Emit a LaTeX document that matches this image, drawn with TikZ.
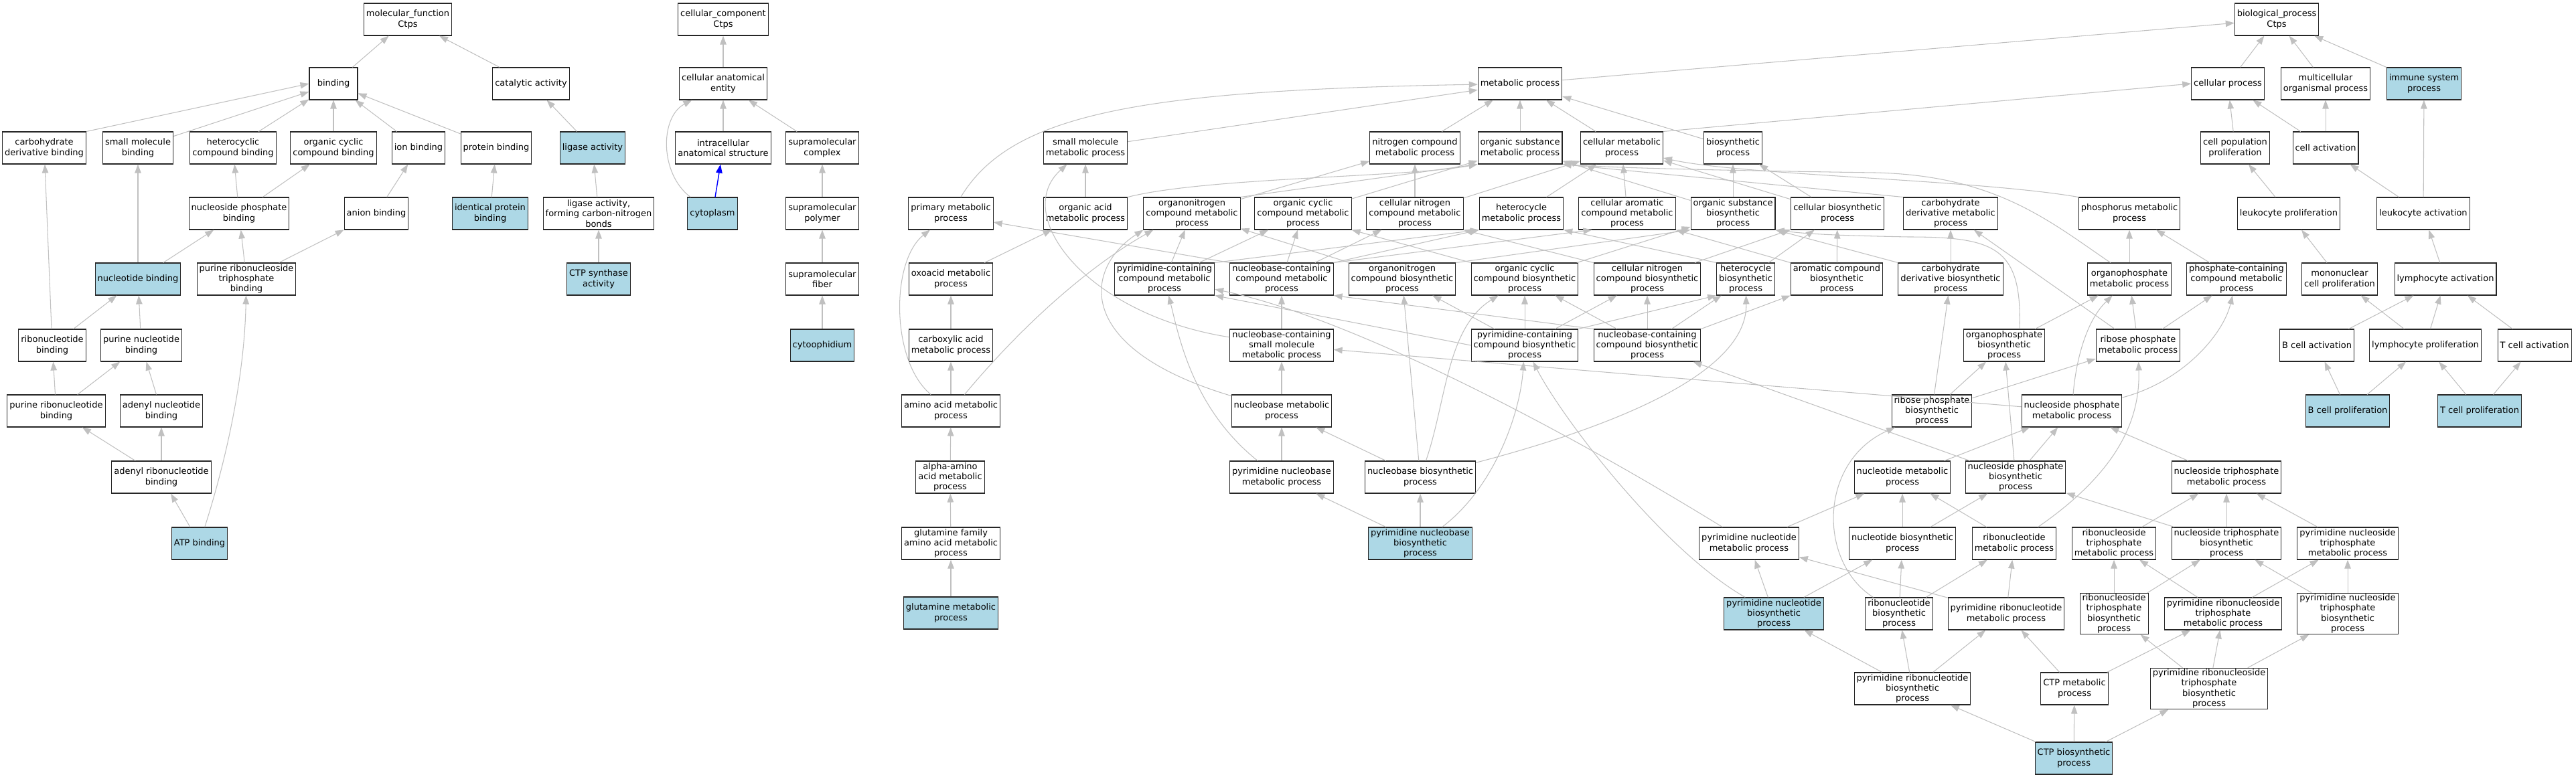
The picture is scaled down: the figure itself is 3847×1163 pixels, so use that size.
\documentclass[tikz,border=0pt]{standalone}
\usepackage{fontspec}
\setmainfont{DejaVu Sans}
\usetikzlibrary{arrows.meta}
\definecolor{goblue}{HTML}{ADD8E6}
\definecolor{gogray}{HTML}{C0C0C0}
\newcommand{\gofont}{\fontsize{7.4pt}{8.7pt}\selectfont}
\begin{document}
\begin{tikzpicture}[ x=0.02cm, y=-0.02cm,
    goterm/.style={ shape=rectangle, draw=black!85, line width=0.6pt, fill=white, align=center, font=\gofont, inner xsep=0.07cm, inner ysep=0.03cm, minimum width=1.44cm, minimum height=0.96cm },
    goseed/.style={ goterm, fill=goblue },
    isa/.style={ draw=gogray, line width=0.6pt, -{Triangle[length=0.26cm, width=0.19cm]} },
    partof/.style={ draw=blue, line width=0.8pt, -{Triangle[length=0.26cm, width=0.19cm]} } ]
    \useasboundingbox (0,0) rectangle (3847,1163);

    \node (nMolFunc) [ goterm ] at (609,29) {molecular\_function\\Ctps};
    \node (nBinding) [ goterm ] at (498,125) {binding};
    \node (nCatalytic) [ goterm ] at (793,125) {catalytic activity};
    \node (nCarbDerivBind) [ goterm ] at (66,221) {carbohydrate\\derivative binding};
    \node (nSmallMolBind) [ goterm ] at (206,221) {small molecule\\binding};
    \node (nHeteroBind) [ goterm ] at (348,221) {heterocyclic\\compound binding};
    \node (nOrgCyclicBind) [ goterm ] at (498,221) {organic cyclic\\compound binding};
    \node (nIonBind) [ goterm ] at (625,221) {ion binding};
    \node (nProteinBind) [ goterm ] at (741,221) {protein binding};
    \node (nLigase) [ goseed ] at (885,221) {ligase activity};
    \node (nNuclPhosBind) [ goterm ] at (357,319) {nucleoside phosphate\\binding};
    \node (nAnionBind) [ goterm ] at (562,319) {anion binding};
    \node (nIdentProtBind) [ goseed ] at (732,319) {identical protein\\binding};
    \node (nLigaseCN) [ goterm ] at (894,319) {ligase activity,\\forming carbon-nitrogen\\bonds};
    \node (nNucleotideBind) [ goseed ] at (206,417) {nucleotide binding};
    \node (nPurRiboTriBind) [ goterm ] at (368,417) {purine ribonucleoside\\triphosphate\\binding};
    \node (nCtpSynthase) [ goseed ] at (894,417) {CTP synthase\\activity};
    \node (nRibonucBind) [ goterm ] at (78,516) {ribonucleotide\\binding};
    \node (nPurNucBind) [ goterm ] at (211,516) {purine nucleotide\\binding};
    \node (nPurRibonucBind) [ goterm ] at (84,614) {purine ribonucleotide\\binding};
    \node (nAdenylNucBind) [ goterm ] at (241,614) {adenyl nucleotide\\binding};
    \node (nAdenylRiboBind) [ goterm ] at (241,713) {adenyl ribonucleotide\\binding};
    \node (nAtpBind) [ goseed ] at (298,812) {ATP binding};

    \node (nCellComp) [ goterm ] at (1080,29) {cellular\_component\\Ctps};
    \node (nCellAnat) [ goterm ] at (1080,125) {cellular anatomical\\entity};
    \node (nIntraAnat) [ goterm ] at (1080,221) {intracellular\\anatomical structure};
    \node (nSupraComplex) [ goterm ] at (1228,221) {supramolecular\\complex};
    \node (nCytoplasm) [ goseed ] at (1064,319) {cytoplasm};
    \node (nSupraPolymer) [ goterm ] at (1228,319) {supramolecular\\polymer};
    \node (nSupraFiber) [ goterm ] at (1228,417) {supramolecular\\fiber};
    \node (nCytoophidium) [ goseed ] at (1228,516) {cytoophidium};

    \node (nBioProc) [ goterm ] at (3400,29) {biological\_process\\Ctps};
    \node (nMetab) [ goterm ] at (2270,125) {metabolic process};
    \node (nCellProc) [ goterm ] at (3327,125) {cellular process};
    \node (nMulticell) [ goterm ] at (3473,125) {multicellular\\organismal process};
    \node (nImmune) [ goseed ] at (3620,125) {immune system\\process};

    \node (nSmallMolMet) [ goterm ] at (1621,221) {small molecule\\metabolic process};
    \node (nNitroMet) [ goterm ] at (2113,221) {nitrogen compound\\metabolic process};
    \node (nOrgSubMet) [ goterm ] at (2270,221) {organic substance\\metabolic process};
    \node (nCellMet) [ goterm ] at (2422,221) {cellular metabolic\\process};
    \node (nBiosyn) [ goterm ] at (2588,221) {biosynthetic\\process};
    \node (nCellPopProlif) [ goterm ] at (3338,221) {cell population\\proliferation};
    \node (nCellAct) [ goterm ] at (3473,221) {cell activation};

    \node (nPrimMet) [ goterm ] at (1420,319) {primary metabolic\\process};
    \node (nOrgAcidMet) [ goterm ] at (1621,319) {organic acid\\metabolic process};
    \node (nOrgNitroMet) [ goterm ] at (1780,319) {organonitrogen\\compound metabolic\\process};
    \node (nOrgCycMet) [ goterm ] at (1946,319) {organic cyclic\\compound metabolic\\process};
    \node (nCellNitroMet) [ goterm ] at (2113,319) {cellular nitrogen\\compound metabolic\\process};
    \node (nHeteroMet) [ goterm ] at (2272,319) {heterocycle\\metabolic process};
    \node (nCellAromMet) [ goterm ] at (2430,319) {cellular aromatic\\compound metabolic\\process};
    \node (nOrgSubBiosyn) [ goterm ] at (2588,319) {organic substance\\biosynthetic\\process};
    \node (nCellBiosyn) [ goterm ] at (2744,319) {cellular biosynthetic\\process};
    \node (nCarbDerivMet) [ goterm ] at (2913,319) {carbohydrate\\derivative metabolic\\process};
    \node (nPhosphorusMet) [ goterm ] at (3180,319) {phosphorus metabolic\\process};
    \node (nLeukoProlif) [ goterm ] at (3418,319) {leukocyte proliferation};
    \node (nLeukoAct) [ goterm ] at (3619,319) {leukocyte activation};

    \node (nOxoacidMet) [ goterm ] at (1420,417) {oxoacid metabolic\\process};
    \node (nPyrContMet) [ goterm ] at (1739,417) {pyrimidine-containing\\compound metabolic\\process};
    \node (nNucbContMet) [ goterm ] at (1914,417) {nucleobase-containing\\compound metabolic\\process};
    \node (nOrgNitroBiosyn) [ goterm ] at (2094,417) {organonitrogen\\compound biosynthetic\\process};
    \node (nOrgCycBiosyn) [ goterm ] at (2277,417) {organic cyclic\\compound biosynthetic\\process};
    \node (nCellNitroBiosyn) [ goterm ] at (2460,417) {cellular nitrogen\\compound biosynthetic\\process};
    \node (nHeteroBiosyn) [ goterm ] at (2607,417) {heterocycle\\biosynthetic\\process};
    \node (nAromBiosyn) [ goterm ] at (2743,417) {aromatic compound\\biosynthetic\\process};
    \node (nCarbDerivBiosyn) [ goterm ] at (2913,417) {carbohydrate\\derivative biosynthetic\\process};
    \node (nOrgPhosMet) [ goterm ] at (3180,417) {organophosphate\\metabolic process};
    \node (nPhosContMet) [ goterm ] at (3340,417) {phosphate-containing\\compound metabolic\\process};
    \node (nMononucProlif) [ goterm ] at (3494,417) {mononuclear\\cell proliferation};
    \node (nLymphoAct) [ goterm ] at (3652,417) {lymphocyte activation};

    \node (nCarboxMet) [ goterm ] at (1420,516) {carboxylic acid\\metabolic process};
    \node (nNucbSmallMet) [ goterm ] at (1914,516) {nucleobase-containing\\small molecule\\metabolic process};
    \node (nPyrContBiosyn) [ goterm ] at (2277,516) {pyrimidine-containing\\compound biosynthetic\\process};
    \node (nNucbContBiosyn) [ goterm ] at (2460,516) {nucleobase-containing\\compound biosynthetic\\process};
    \node (nOrgPhosBiosyn) [ goterm ] at (2993,516) {organophosphate\\biosynthetic\\process};
    \node (nRibPhosMet) [ goterm ] at (3193,516) {ribose phosphate\\metabolic process};
    \node (nBCellAct) [ goterm ] at (3460,516) {B cell activation};
    \node (nLymphoProlif) [ goterm ] at (3622,516) {lymphocyte proliferation};
    \node (nTCellAct) [ goterm ] at (3785,516) {T cell activation};

    \node (nAminoMet) [ goterm ] at (1420,614) {amino acid metabolic\\process};
    \node (nNucbMet) [ goterm ] at (1914,614) {nucleobase metabolic\\process};
    \node (nRibPhosBiosyn) [ goterm ] at (2885,614) {ribose phosphate\\biosynthetic\\process};
    \node (nNucsPhosMet) [ goterm ] at (3094,614) {nucleoside phosphate\\metabolic process};
    \node (nBCellProlif) [ goseed ] at (3506,614) {B cell proliferation};
    \node (nTCellProlif) [ goseed ] at (3703,614) {T cell proliferation};

    \node (nAlphaAminoMet) [ goterm ] at (1419,713) {alpha-amino\\acid metabolic\\process};
    \node (nPyrNucbMet) [ goterm ] at (1914,713) {pyrimidine nucleobase\\metabolic process};
    \node (nNucbBiosyn) [ goterm ] at (2121,713) {nucleobase biosynthetic\\process};
    \node (nNuctMet) [ goterm ] at (2841,713) {nucleotide metabolic\\process};
    \node (nNucsPhosBiosyn) [ goterm ] at (3010,713) {nucleoside phosphate\\biosynthetic\\process};
    \node (nNucsTriMet) [ goterm ] at (3325,713) {nucleoside triphosphate\\metabolic process};

    \node (nGlnFamMet) [ goterm ] at (1420,812) {glutamine family\\amino acid metabolic\\process};
    \node (nPyrNucbBiosyn) [ goseed ] at (2121,812) {pyrimidine nucleobase\\biosynthetic\\process};
    \node (nPyrNuctMet) [ goterm ] at (2612,812) {pyrimidine nucleotide\\metabolic process};
    \node (nNuctBiosyn) [ goterm ] at (2841,812) {nucleotide biosynthetic\\process};
    \node (nRibonuctMet) [ goterm ] at (3008,812) {ribonucleotide\\metabolic process};
    \node (nRibonucsTriMet) [ goterm ] at (3157,812) {ribonucleoside\\triphosphate\\metabolic process};
    \node (nNucsTriBiosyn) [ goterm ] at (3325,812) {nucleoside triphosphate\\biosynthetic\\process};
    \node (nPyrNucsTriMet) [ goterm ] at (3506,812) {pyrimidine nucleoside\\triphosphate\\metabolic process};

    \node (nGlnMet) [ goseed ] at (1420,916) {glutamine metabolic\\process};
    \node (nPyrNuctBiosyn) [ goseed ] at (2649,917) {pyrimidine nucleotide\\biosynthetic\\process};
    \node (nRibonuctBiosyn) [ goterm ] at (2836,917) {ribonucleotide\\biosynthetic\\process};
    \node (nPyrRibonuctMet) [ goterm ] at (2996,917) {pyrimidine ribonucleotide\\metabolic process};
    \node (nRibonucsTriBiosyn) [ goterm ] at (3157,917) {ribonucleoside\\triphosphate\\biosynthetic\\process};
    \node (nPyrRibonucsTriMet) [ goterm ] at (3320,917) {pyrimidine ribonucleoside\\triphosphate\\metabolic process};
    \node (nPyrNucsTriBiosyn) [ goterm ] at (3506,917) {pyrimidine nucleoside\\triphosphate\\biosynthetic\\process};

    \node (nPyrRibonuctBiosyn) [ goterm ] at (2856,1029) {pyrimidine ribonucleotide\\biosynthetic\\process};
    \node (nCtpMet) [ goterm ] at (3098,1029) {CTP metabolic\\process};
    \node (nPyrRibonucsTriBiosyn) [ goterm ] at (3299,1029) {pyrimidine ribonucleoside\\triphosphate\\biosynthetic\\process};

    \node (nCtpBiosyn) [ goseed ] at (3097,1133) {CTP biosynthetic\\process};

    \draw [isa] (nBinding) -- (nMolFunc);
    \draw [isa] (nCatalytic) -- (nMolFunc);
    \draw [isa] (nCarbDerivBind.north east) -- (nBinding.west);
    \draw [isa] (nSmallMolBind) -- (nBinding);
    \draw [isa] (nHeteroBind) -- (nBinding);
    \draw [isa] (nOrgCyclicBind) -- (nBinding);
    \draw [isa] (nIonBind) -- (nBinding);
    \draw [isa] (nProteinBind) -- (nBinding);
    \draw [isa] (nLigase) -- (nCatalytic);
    \draw [isa] (nNuclPhosBind) -- (nHeteroBind);
    \draw [isa] (nNuclPhosBind) -- (nOrgCyclicBind);
    \draw [isa] (nAnionBind) -- (nIonBind);
    \draw [isa] (nIdentProtBind) -- (nProteinBind);
    \draw [isa] (nLigaseCN) -- (nLigase);
    \draw [isa] (nNucleotideBind) -- (nSmallMolBind);
    \draw [isa] (nNucleotideBind) -- (nNuclPhosBind);
    \draw [isa] (nPurRiboTriBind) -- (nNuclPhosBind);
    \draw [isa] (nPurRiboTriBind) -- (nAnionBind);
    \draw [isa] (nCtpSynthase) -- (nLigaseCN);
    \draw [isa] (nRibonucBind) -- (nCarbDerivBind);
    \draw [isa] (nRibonucBind) -- (nNucleotideBind);
    \draw [isa] (nPurNucBind) -- (nNucleotideBind);
    \draw [isa] (nPurRibonucBind) -- (nRibonucBind);
    \draw [isa] (nPurRibonucBind) -- (nPurNucBind);
    \draw [isa] (nAdenylNucBind) -- (nPurNucBind);
    \draw [isa] (nAdenylRiboBind) -- (nPurRibonucBind);
    \draw [isa] (nAdenylRiboBind) -- (nAdenylNucBind);
    \draw [isa] (nAtpBind) -- (nAdenylRiboBind);
    \draw [isa] (nAtpBind) .. controls (340,680) and (365,560) .. (nPurRiboTriBind);

    \draw [isa] (nCellAnat) -- (nCellComp);
    \draw [isa] (nIntraAnat) -- (nCellAnat);
    \draw [isa] (nSupraComplex) -- (nCellAnat);
    \draw [partof] (nCytoplasm) -- (nIntraAnat);
    \draw [isa] (nCytoplasm) .. controls (985,260) and (985,175) .. (nCellAnat);
    \draw [isa] (nSupraPolymer) -- (nSupraComplex);
    \draw [isa] (nSupraFiber) -- (nSupraPolymer);
    \draw [isa] (nCytoophidium) -- (nSupraFiber);

    \draw [isa] (nMetab) -- (nBioProc);
    \draw [isa] (nCellProc) -- (nBioProc);
    \draw [isa] (nMulticell) -- (nBioProc);
    \draw [isa] (nImmune) -- (nBioProc);
    \draw [isa] (nSmallMolMet) -- (nMetab);
    \draw [isa] (nNitroMet) -- (nMetab);
    \draw [isa] (nOrgSubMet) -- (nMetab);
    \draw [isa] (nCellMet) -- (nMetab);
    \draw [isa] (nBiosyn) -- (nMetab);
    \draw [isa] (nPrimMet) .. controls (1510,170) and (1700,135) .. (nMetab);
    \draw [isa] (nCellMet.north east) -- (nCellProc.west);
    \draw [isa] (nCellPopProlif) -- (nCellProc);
    \draw [isa] (nCellAct) -- (nCellProc);
    \draw [isa] (nCellAct) -- (nMulticell);
    \draw [isa] (nLeukoProlif) -- (nCellPopProlif);
    \draw [isa] (nLeukoAct) -- (nCellAct);
    \draw [isa] (nLeukoAct) -- (nImmune);
    \draw [isa] (nMononucProlif) -- (nLeukoProlif);
    \draw [isa] (nLymphoAct) -- (nLeukoAct);
    \draw [isa] (nBCellAct) -- (nLymphoAct);
    \draw [isa] (nLymphoProlif) -- (nMononucProlif);
    \draw [isa] (nLymphoProlif) -- (nLymphoAct);
    \draw [isa] (nTCellAct) -- (nLymphoAct);
    \draw [isa] (nBCellProlif) -- (nBCellAct);
    \draw [isa] (nBCellProlif) -- (nLymphoProlif);
    \draw [isa] (nTCellProlif) -- (nLymphoProlif);
    \draw [isa] (nTCellProlif) -- (nTCellAct);

    \draw [isa] (nOrgAcidMet) -- (nSmallMolMet);
    \draw [isa] (nOrgAcidMet.north east) .. controls (1800,265) and (2100,265) .. (nOrgSubMet.south west);
    \draw [isa] (nOrgNitroMet) -- (nNitroMet);
    \draw [isa] (nOrgNitroMet.north east) -- (nOrgSubMet.south west);
    \draw [isa] (nOrgCycMet) -- (nOrgSubMet);
    \draw [isa] (nCellNitroMet) -- (nNitroMet);
    \draw [isa] (nCellNitroMet) -- (nCellMet);
    \draw [isa] (nHeteroMet) -- (nCellMet);
    \draw [isa] (nCellAromMet) -- (nCellMet);
    \draw [isa] (nOrgSubBiosyn) -- (nOrgSubMet);
    \draw [isa] (nOrgSubBiosyn) -- (nBiosyn);
    \draw [isa] (nCellBiosyn) -- (nCellMet);
    \draw [isa] (nCellBiosyn) -- (nBiosyn);
    \draw [isa] (nCarbDerivMet.north west) -- (nOrgSubMet.south east);
    \draw [isa] (nPhosphorusMet.north west) .. controls (2950,268) and (2600,262) .. ([yshift=-0.3cm]nCellMet.east);

    \draw [isa] (nOxoacidMet) -- (nOrgAcidMet);
    \draw [isa] (nPyrContMet) -- (nOrgNitroMet);
    \draw [isa] (nPyrContMet) -- (nOrgCycMet);
    \draw [isa] (nPyrContMet.north east) -- (nHeteroMet.south west);
    \draw [isa] (nNucbContMet.north west) -- ([yshift=-0.26cm]nPrimMet.east);
    \draw [isa] (nNucbContMet) -- (nOrgCycMet);
    \draw [isa] (nNucbContMet) -- (nCellNitroMet);
    \draw [isa] (nNucbContMet.north east) -- (nHeteroMet.south west);
    \draw [isa] (nNucbContMet.north east) -- ([xshift=0.4cm]nCellAromMet.south west);
    \draw [isa] (nOrgNitroBiosyn) -- (nOrgNitroMet);
    \draw [isa] (nOrgNitroBiosyn.north east) -- (nOrgSubBiosyn.south west);
    \draw [isa] (nOrgCycBiosyn.north west) -- (nOrgCycMet.south east);
    \draw [isa] (nOrgCycBiosyn) -- (nOrgSubBiosyn);
    \draw [isa] (nCellNitroBiosyn.north west) -- (nCellNitroMet.south east);
    \draw [isa] (nCellNitroBiosyn) -- (nCellBiosyn);
    \draw [isa] (nHeteroBiosyn.north west) -- (nHeteroMet.south east);
    \draw [isa] (nHeteroBiosyn) -- (nCellBiosyn);
    \draw [isa] (nAromBiosyn.north west) -- (nCellAromMet.south east);
    \draw [isa] (nAromBiosyn) -- (nCellBiosyn);
    \draw [isa] (nCarbDerivBiosyn) -- (nCarbDerivMet);
    \draw [isa] (nCarbDerivBiosyn.north west) -- (nOrgSubBiosyn.south east);
    \draw [isa] (nOrgPhosMet) -- (nPhosphorusMet);
    \draw [isa] ([xshift=0.7cm]nOrgPhosMet.north west) .. controls (3060,330) and (2980,262) .. (2800,258) .. controls (2520,254) and (2400,250) .. (nOrgSubMet.south east);
    \draw [isa] (nPhosContMet) -- (nPhosphorusMet);

    \draw [isa] (nCarboxMet) -- (nOxoacidMet);
    \draw [isa] (nNucbSmallMet) -- (nNucbContMet);
    \draw [isa] (nNucbSmallMet) .. controls (1620,470) and (1510,320) .. (nSmallMolMet);
    \draw [isa] (nPyrContBiosyn.west) -- (nPyrContMet.south east);
    \draw [isa] (nPyrContBiosyn) -- (nOrgNitroBiosyn);
    \draw [isa] (nPyrContBiosyn) -- (nOrgCycBiosyn);
    \draw [isa] (nPyrContBiosyn) -- (nCellNitroBiosyn);
    \draw [isa] (nPyrContBiosyn.north east) -- (nHeteroBiosyn.south west);
    \draw [isa] (nNucbContBiosyn.north west) -- (nNucbContMet.south east);
    \draw [isa] (nNucbContBiosyn) -- (nOrgCycBiosyn);
    \draw [isa] (nNucbContBiosyn) -- (nCellNitroBiosyn);
    \draw [isa] (nNucbContBiosyn) -- (nHeteroBiosyn);
    \draw [isa] (nNucbContBiosyn.north east) -- (nAromBiosyn.south west);
    \draw [isa] (nOrgPhosBiosyn) -- (nOrgPhosMet);
    \draw [isa] ([xshift=0.46cm]nOrgPhosBiosyn.north) .. controls (3020,370) and (2980,354) .. (2850,354) .. controls (2750,352) and (2700,350) .. (nOrgSubBiosyn.south east);
    \draw [isa] (nRibPhosMet) -- (nCarbDerivMet);
    \draw [isa] (nRibPhosMet) -- (nOrgPhosMet);
    \draw [isa] (nRibPhosMet) -- (nPhosContMet);

    \draw [isa] (nAminoMet) -- (nCarboxMet);
    \draw [isa] (nAminoMet) .. controls (1330,540) and (1330,390) .. (nPrimMet);
    \draw [isa] (nAminoMet) .. controls (1540,470) and (1640,390) .. ([xshift=0.3cm]nOrgNitroMet.south west);
    \draw [isa] (nNucbMet) -- (nNucbSmallMet);
    \draw [isa] (nNucbMet) .. controls (1600,520) and (1620,400) .. (nOrgNitroMet.south west);
    \draw [isa] (nRibPhosBiosyn) -- (nCarbDerivBiosyn);
    \draw [isa] (nRibPhosBiosyn) -- (nOrgPhosBiosyn);
    \draw [isa] (nRibPhosBiosyn) -- (nRibPhosMet);
    \draw [isa] (nNucsPhosMet) -- (nNucbSmallMet);
    \draw [isa] (nNucsPhosMet) .. controls (3100,540) and (3115,480) .. (nOrgPhosMet);
    \draw [isa] (nNucsPhosMet) .. controls (3260,570) and (3320,500) .. (nPhosContMet);

    \draw [isa] (nAlphaAminoMet) -- (nAminoMet);
    \draw [isa] (nPyrNucbMet) -- (nNucbMet);
    \draw [isa] ([xshift=0.84cm]nPyrNucbMet.north west) .. controls (1780,610) and (1760,500) .. (nPyrContMet);
    \draw [isa] (nNucbBiosyn) -- (nNucbMet);
    \draw [isa] (nNucbBiosyn) -- (nOrgNitroBiosyn);
    \draw [isa] (nNucbBiosyn) .. controls (2160,600) and (2160,490) .. (nOrgCycBiosyn);
    \draw [isa] (nNucbBiosyn) .. controls (2400,640) and (2610,560) .. (nHeteroBiosyn);
    \draw [isa] (nNuctMet) -- (nNucsPhosMet);
    \draw [isa] (nNucsPhosBiosyn) -- (nNucsPhosMet);
    \draw [isa] (nNucsPhosBiosyn) -- (nNucbContBiosyn);
    \draw [isa] (nNucsPhosBiosyn) -- (nOrgPhosBiosyn);
    \draw [isa] (nNucsTriMet) -- (nNucsPhosMet);

    \draw [isa] (nGlnFamMet) -- (nAlphaAminoMet);
    \draw [isa] (nPyrNucbBiosyn) -- (nPyrNucbMet);
    \draw [isa] (nPyrNucbBiosyn) -- (nNucbBiosyn);
    \draw [isa] (nPyrNucbBiosyn) .. controls (2230,730) and (2270,620) .. (nPyrContBiosyn);
    \draw [isa] (nPyrNuctMet) -- (nNuctMet);
    \draw [isa] (nPyrNuctMet) .. controls (2300,620) and (2000,470) .. (nPyrContMet);
    \draw [isa] (nNuctBiosyn) -- (nNuctMet);
    \draw [isa] (nNuctBiosyn) -- (nNucsPhosBiosyn);
    \draw [isa] (nRibonuctMet) -- (nNuctMet);
    \draw [isa] (nRibonuctMet) .. controls (3170,700) and (3196,620) .. (nRibPhosMet);
    \draw [isa] (nRibonucsTriMet) -- (nNucsTriMet);
    \draw [isa] (nNucsTriBiosyn) -- (nNucsTriMet);
    \draw [isa] (nNucsTriBiosyn) -- (nNucsPhosBiosyn);
    \draw [isa] (nPyrNucsTriMet) -- (nNucsTriMet);

    \draw [isa] (nGlnMet) -- (nGlnFamMet);
    \draw [isa] (nPyrNuctBiosyn) -- (nPyrNuctMet);
    \draw [isa] (nPyrNuctBiosyn) -- (nNuctBiosyn);
    \draw [isa] (nPyrNuctBiosyn) .. controls (2480,820) and (2330,620) .. (nPyrContBiosyn);
    \draw [isa] (nRibonuctBiosyn) -- (nNuctBiosyn);
    \draw [isa] (nRibonuctBiosyn) -- (nRibonuctMet);
    \draw [isa] (nRibonuctBiosyn) .. controls (2715,840) and (2715,690) .. (nRibPhosBiosyn);
    \draw [isa] (nPyrRibonuctMet) -- (nPyrNuctMet);
    \draw [isa] (nPyrRibonuctMet) -- (nRibonuctMet);
    \draw [isa] (nRibonucsTriBiosyn) -- (nRibonucsTriMet);
    \draw [isa] (nRibonucsTriBiosyn) -- (nNucsTriBiosyn);
    \draw [isa] (nPyrRibonucsTriMet) -- (nRibonucsTriMet);
    \draw [isa] (nPyrRibonucsTriMet) -- (nPyrNucsTriMet);
    \draw [isa] (nPyrNucsTriBiosyn) -- (nPyrNucsTriMet);
    \draw [isa] (nPyrNucsTriBiosyn) -- (nNucsTriBiosyn);

    \draw [isa] (nPyrRibonuctBiosyn) -- (nPyrNuctBiosyn);
    \draw [isa] (nPyrRibonuctBiosyn) -- (nRibonuctBiosyn);
    \draw [isa] (nPyrRibonuctBiosyn) -- (nPyrRibonuctMet);
    \draw [isa] (nCtpMet) -- (nPyrRibonuctMet);
    \draw [isa] (nCtpMet) -- (nPyrRibonucsTriMet);
    \draw [isa] (nPyrRibonucsTriBiosyn) -- (nRibonucsTriBiosyn);
    \draw [isa] (nPyrRibonucsTriBiosyn) -- (nPyrRibonucsTriMet);
    \draw [isa] (nPyrRibonucsTriBiosyn) -- (nPyrNucsTriBiosyn);
    \draw [isa] (nCtpBiosyn) -- (nPyrRibonuctBiosyn);
    \draw [isa] (nCtpBiosyn) -- (nCtpMet);
    \draw [isa] (nCtpBiosyn) -- (nPyrRibonucsTriBiosyn);
\end{tikzpicture}
\end{document}
